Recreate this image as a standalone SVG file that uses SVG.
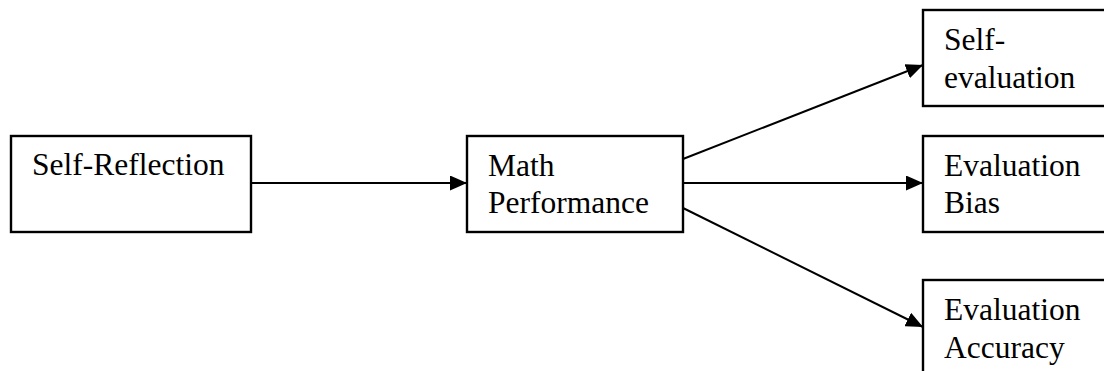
<svg xmlns="http://www.w3.org/2000/svg" width="1104" height="371" viewBox="0 0 1104 371">
<style>
.box{fill:#fff;stroke:#000;stroke-width:2.4}
.lbl{font-family:"Liberation Serif","Times New Roman",serif;font-size:31.5px;fill:#000}
.edge{stroke:#000;stroke-width:2;fill:none}
</style>
<defs>
<marker id="ah" markerUnits="userSpaceOnUse" markerWidth="17" markerHeight="15" refX="17" refY="7.5" orient="auto">
<path d="M0,0 L17,7.5 L0,15 Z" fill="#000"/>
</marker>
</defs>
<rect width="1104" height="371" fill="#fff"/>
<g id="connectors">
<line class="edge" x1="251" y1="183" x2="467" y2="183" marker-end="url(#ah)"/>
<line class="edge" x1="683" y1="159" x2="923" y2="65" marker-end="url(#ah)"/>
<line class="edge" x1="683" y1="183" x2="923" y2="183" marker-end="url(#ah)"/>
<line class="edge" x1="683" y1="208" x2="923" y2="327" marker-end="url(#ah)"/>
</g>
<g id="self-reflection">
<rect class="box" x="11" y="136" width="240" height="96"/>
<text class="lbl" x="32" y="175">Self-Reflection</text>
</g>
<g id="math-performance">
<rect class="box" x="467" y="136" width="216" height="96"/>
<text class="lbl" x="488" y="176">Math</text>
<text class="lbl" x="488" y="213">Performance</text>
</g>
<g id="self-evaluation">
<rect class="box" x="923" y="10" width="200" height="96"/>
<text class="lbl" x="944" y="50">Self-</text>
<text class="lbl" x="944" y="88">evaluation</text>
</g>
<g id="evaluation-bias">
<rect class="box" x="923" y="136" width="200" height="96"/>
<text class="lbl" x="944" y="176">Evaluation</text>
<text class="lbl" x="944" y="213">Bias</text>
</g>
<g id="evaluation-accuracy">
<rect class="box" x="923" y="280" width="200" height="110"/>
<text class="lbl" x="944" y="320">Evaluation</text>
<text class="lbl" x="944" y="358">Accuracy</text>
</g>
</svg>
